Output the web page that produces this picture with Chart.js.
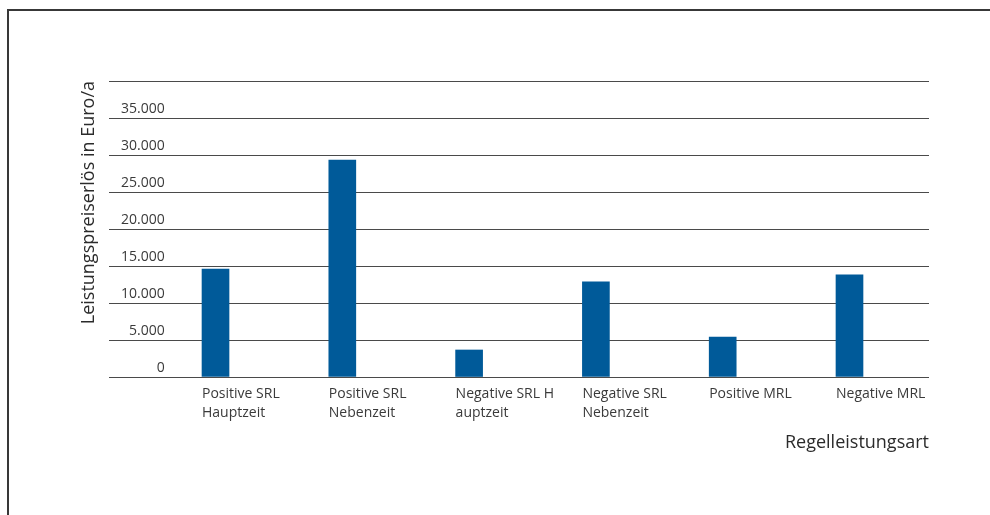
<!DOCTYPE html>
<html lang="de">
<head>
<meta charset="utf-8">
<script src="https://cdn.jsdelivr.net/npm/chart.js@4.4.1/dist/chart.umd.min.js"></script>
<style>
  html, body { margin: 0; padding: 0; background: #fff; }
  #wrap { position: relative; width: 990px; height: 515px; overflow: hidden; }
  #frame { position: absolute; left: 7px; top: 9px; width: 1100px; height: 600px;
           border-top: 2px solid #383838; border-left: 2px solid #383838; }
  #chart { position: absolute; left: 0; top: 0; }
</style>
</head>
<body>
<div id="wrap">
  <div id="frame"></div>
  <canvas id="chart" width="990" height="515"></canvas>
</div>
<script>
// Regelleistungsarten (Zeilenumbrüche wie in der Vorlage)
const categories = [
  ["Positive SRL", "Hauptzeit"],
  ["Positive SRL", "Nebenzeit"],
  ["Negative SRL H", "auptzeit"],
  ["Negative SRL", "Nebenzeit"],
  ["Positive MRL"],
  ["Negative MRL"],
];
// Leistungspreiserlös in Euro/a
const erloese = [14600, 29300, 3650, 12850, 5400, 13800];
const yTicks = [0, 5000, 10000, 15000, 20000, 25000, 30000, 35000, 40000];

const fontFamily = "'Open Sans', 'DejaVu Sans', sans-serif";
const textColor = "#3a3a3a";
const barColor = "#005a99";

const fmt = (v) => String(v).replace(/\B(?=(\d{3})+(?!\d))/g, ".");

new Chart(document.getElementById("chart"), {
  type: "bar",
  data: {
    datasets: [
      {
        data: erloese.map((v, i) => ({ x: i, y: v })),
        backgroundColor: barColor,
        borderWidth: 0,
        barThickness: 27,
      },
    ],
  },
  options: {
    responsive: false,
    animation: false,
    layout: { padding: { left: 78, right: 61, top: 81, bottom: 61 } },
    plugins: {
      legend: { display: false },
      tooltip: { enabled: false },
    },
    scales: {
      x: {
        type: "linear",
        offset: false,
        min: -0.84,
        max: 5.627,
        grid: { display: false, drawTicks: false, offset: false },
        border: { display: false },
        afterBuildTicks: (scale) => {
          scale.ticks = categories.map((_, i) => ({ value: i }));
        },
        afterFit: (scale) => {
          scale.height = 77;
        },
        ticks: {
          autoSkip: false,
          maxRotation: 0,
          align: "start",
          labelOffset: -13.5,
          padding: 8,
          color: textColor,
          font: { family: fontFamily, size: 14, lineHeight: 1.32 },
          callback: (v) => categories[v],
        },
        title: {
          display: true,
          text: "Regelleistungsart",
          align: "end",
          color: "#2b2b2b",
          padding: 0,
          font: { family: fontFamily, size: 18 },
        },
      },
      y: {
        min: 0,
        max: 40000,
        grid: { color: "#4a4a4a", lineWidth: 1, drawTicks: false },
        border: { display: false },
        afterBuildTicks: (scale) => {
          scale.ticks = yTicks.map((v) => ({ value: v }));
        },
        afterFit: (scale) => {
          scale.width = 31;
        },
        ticks: {
          mirror: true,
          crossAlign: "far",
          padding: 12,
          labelOffset: -9,
          color: textColor,
          font: { family: fontFamily, size: 14 },
          callback: (v) => (v === 40000 ? "" : fmt(v)),
        },
        title: {
          display: true,
          text: "Leistungspreiserlös in Euro/a",
          align: "end",
          color: "#2b2b2b",
          padding: 0,
          font: { family: fontFamily, size: 18 },
        },
      },
    },
  },
});
</script>
</body>
</html>
